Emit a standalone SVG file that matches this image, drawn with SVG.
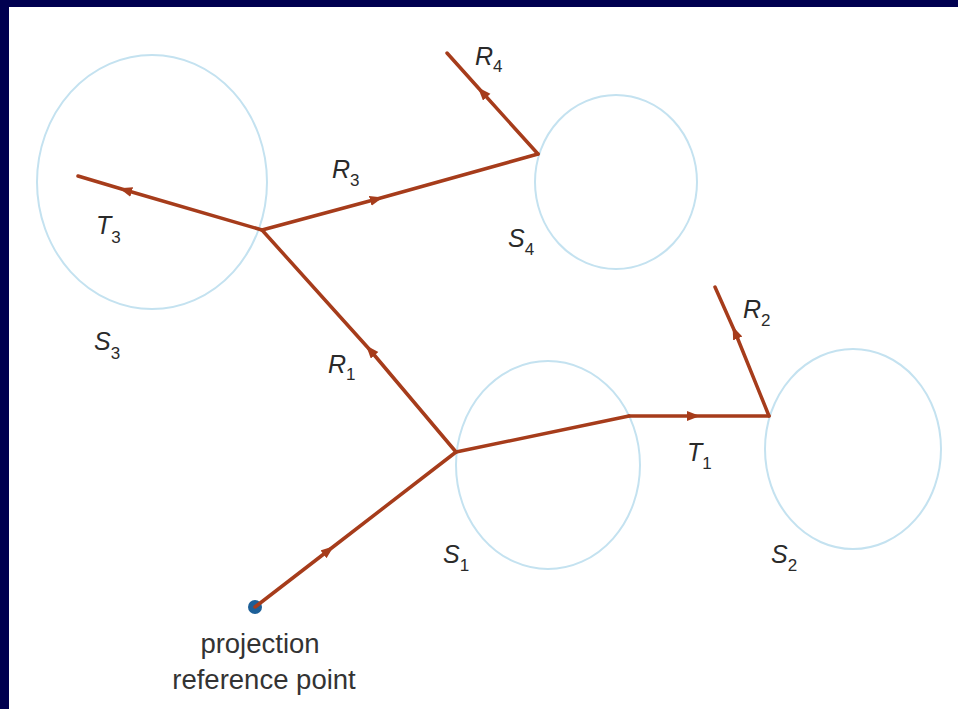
<svg xmlns="http://www.w3.org/2000/svg" width="958" height="709" viewBox="0 0 958 709">
<style>
.surf{fill:none;stroke:#c4e2f0;stroke-width:2}
.ray{fill:none;stroke:#a63c1b;stroke-width:3.5;stroke-linejoin:round;stroke-linecap:round}
.lbl{font-family:"Liberation Sans",Arial,sans-serif;font-size:25px;font-style:italic;fill:#2a2a2a}
.sub{font-style:normal;font-size:17px}
.cap{font-family:"Liberation Sans",Arial,sans-serif;font-size:27.5px;fill:#333;text-anchor:middle}
</style>
<defs>
<marker id="ah" markerUnits="userSpaceOnUse" markerWidth="14" markerHeight="12" refX="7" refY="5" orient="auto">
<path d="M0,0 L13,5 L0,10 z" fill="#a63c1b"/>
</marker>
</defs>
<rect x="0" y="0" width="958" height="709" fill="#000050"/>
<rect x="9" y="7" width="949" height="702" fill="#ffffff"/>
<g id="S3"><ellipse class="surf" cx="152" cy="182" rx="115" ry="127"/><text class="lbl" x="94" y="350">S<tspan class="sub" dy="9">3</tspan></text></g>
<g id="S4"><ellipse class="surf" cx="616" cy="182" rx="81" ry="87"/><text class="lbl" x="508" y="247">S<tspan class="sub" dy="8">4</tspan></text></g>
<g id="S1"><ellipse class="surf" cx="548" cy="465" rx="92" ry="104"/><text class="lbl" x="443" y="563">S<tspan class="sub" dy="8">1</tspan></text></g>
<g id="S2"><ellipse class="surf" cx="853" cy="449" rx="88" ry="100"/><text class="lbl" x="771" y="563">S<tspan class="sub" dy="8">2</tspan></text></g>
<g id="prp"><circle cx="255" cy="607" r="7" fill="#1d5f98"/><text class="cap" x="260" y="653">projection</text><text class="cap" x="264" y="689">reference point</text></g>
<g id="connectors">
<path class="ray" d="M255,607 L329,550 L456,452" marker-mid="url(#ah)"/>
<path class="ray" d="M456,452 L370,350 L262,230" marker-mid="url(#ah)"/>
<path class="ray" d="M456,452 L629,416"/>
<path class="ray" d="M629,416 L694,416 L769,416" marker-mid="url(#ah)"/>
<path class="ray" d="M769,416 L735,332 L715,287" marker-mid="url(#ah)"/>
<path class="ray" d="M262,230 L125,190 L78,176" marker-mid="url(#ah)"/>
<path class="ray" d="M262,230 L377,199 L538,154" marker-mid="url(#ah)"/>
<path class="ray" d="M538,154 L482,92 L447,53" marker-mid="url(#ah)"/>
</g>
<g id="labels">
<text class="lbl" x="475" y="65">R<tspan class="sub" dy="7">4</tspan></text>
<text class="lbl" x="332" y="178">R<tspan class="sub" dy="8">3</tspan></text>
<text class="lbl" x="96" y="234">T<tspan class="sub" dy="9">3</tspan></text>
<text class="lbl" x="328" y="373">R<tspan class="sub" dy="7">1</tspan></text>
<text class="lbl" x="743" y="318">R<tspan class="sub" dy="8">2</tspan></text>
<text class="lbl" x="687" y="461">T<tspan class="sub" dy="8">1</tspan></text>
</g>
</svg>
